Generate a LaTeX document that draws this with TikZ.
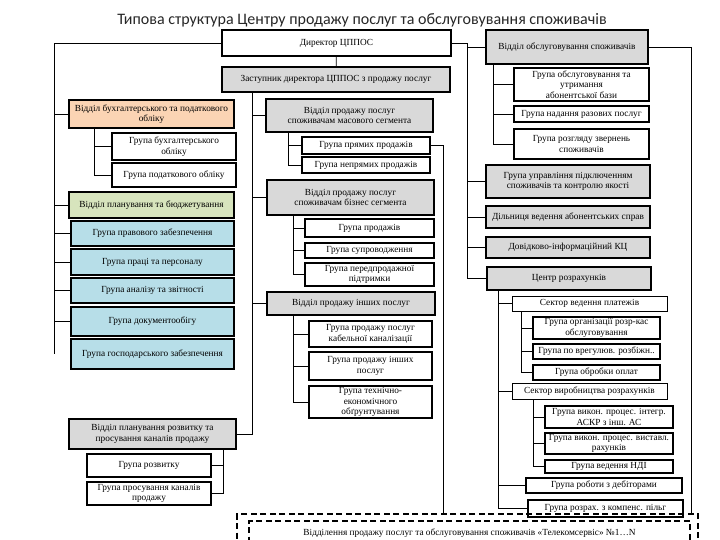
\documentclass[tikz,border=0pt]{standalone}
\usepackage{fontspec}
\setmainfont{Liberation Serif}
\newfontfamily\titlefont{Carlito}
\usepackage{xcolor}
\usepackage{tikz}
\definecolor{deptgrey}{RGB}{217,217,217}
\definecolor{accpeach}{RGB}{251,212,180}
\definecolor{plangreen}{RGB}{215,228,189}
\definecolor{staffblue}{RGB}{183,222,232}

\begin{document}
\begin{tikzpicture}[x=1pt, y=-1pt,
box/.style={draw, line width=1.8pt, inner sep=0pt, align=center, font=\fontsize{9.3}{10.6}\selectfont},
sz/.style 2 args={minimum width=#1pt, minimum height=#2pt},
grp/.style={box, fill=white},
dept/.style={box, fill=deptgrey},
sector/.style={box, fill=white, line width=1pt},
accbox/.style={box, fill=accpeach},
planbox/.style={box, fill=plangreen},
staffbox/.style={box, fill=staffblue},
branchbox/.style={draw, line width=1.5pt, dash pattern=on 6pt off 3.5pt, inner sep=0pt, font=\fontsize{9.3}{10.6}\selectfont},
link/.style={line width=0.8pt}
]
\useasboundingbox (0,0) rectangle (720,540);

\node[font=\titlefont\fontsize{16}{18}\selectfont, text=black!85] (title) at (362,20) {Типова структура Центру продажу послуг та обслуговування споживачів};

\coordinate (lbus) at (54,0);
\coordinate (abus) at (94,0);
\coordinate (vbus) at (223,0);
\coordinate (dbus) at (252,0);
\coordinate (mbus) at (288,0);
\coordinate (bbus) at (293,0);
\coordinate (tap) at (443,0);
\coordinate (rbus) at (467,0);
\coordinate (sbus) at (493,0);
\coordinate (cbus) at (498,0);
\coordinate (pbus) at (521,0);
\coordinate (qbus) at (533,0);
\coordinate (rline) at (691,0);

% top
\node[grp, sz={229}{26}] (director) at (336.5,43) {Директор ЦППОС};
\node[dept, sz={228}{25}] (deputy) at (336,79.5) {Заступник директора ЦППОС з продажу послуг};

% left column
\node[accbox, sz={165}{28}] (acc) at (151.5,114) {Відділ бухгалтерського та податкового\\обліку};
\node[grp, sz={124}{27}] (book) at (174,146.5) {Група бухгалтерського\\обліку};
\node[grp, sz={124}{24}] (tax) at (174,175) {Група податкового обліку};
\node[planbox, sz={165}{26}] (plan) at (151.5,205) {Відділ планування та бюджетування};
\node[staffbox, sz={163}{25}] (legal) at (152.5,233.5) {Група правового забезпечення};
\node[staffbox, sz={163}{26}] (staff) at (152.5,262) {Група праці та персоналу};
\node[staffbox, sz={163}{25}] (report) at (152.5,290.5) {Група аналізу та звітності};
\node[staffbox, sz={163}{29}] (docs) at (152.5,321.5) {Група документообігу};
\node[staffbox, sz={163}{30}] (household) at (152.5,354) {Група господарського забезпечення};
\node[dept, sz={167}{30}] (devel) at (152.5,434) {Відділ планування розвитку та\\просування каналів продажу};
\node[grp, sz={124}{23}] (growth) at (149,465.5) {Група розвитку};
\node[grp, sz={124}{23}] (promo) at (149,493.5) {Група просування каналів\\продажу};

% middle column
\node[dept, sz={167}{33}] (mass) at (349.5,115.5) {Відділ продажу послуг\\споживачам масового сегмента};
\node[grp, sz={128}{17}] (direct) at (366,145.5) {Група прямих продажів};
\node[grp, sz={128}{16}] (indirect) at (366,165) {Група непрямих продажів};
\node[dept, sz={167}{35}] (biz) at (350.5,197.5) {Відділ продажу послуг\\споживачам бізнес сегмента};
\node[grp, sz={129}{18}] (sales) at (369.5,228) {Група продажів};
\node[grp, sz={129}{15}] (support) at (369.5,250.5) {Група супроводження};
\node[grp, sz={129}{23}] (presale) at (369.5,274.5) {Група передпродажної\\підтримки};
\node[dept, sz={168}{23}] (other) at (351,303.5) {Відділ продажу інших послуг};
\node[grp, sz={123}{26}] (cable) at (370.5,334) {Група продажу послуг\\кабельної каналізації};
\node[grp, sz={123}{28}] (misc) at (370.5,366) {Група продажу інших\\послуг};
\node[grp, sz={123}{32}] (feasib) at (370.5,402) {Група технічно-\\економічного\\обґрунтування};

% right column
\node[dept, sz={162}{34}] (service) at (567,47) {Відділ обслуговування споживачів};
\node[grp, sz={135}{33}] (upkeep) at (581.5,84.5) {Група  обслуговування та\\утримання\\абонентської бази};
\node[grp, sz={135}{16}] (once) at (581.5,114) {Група  надання разових послуг};
\node[grp, sz={135}{30}] (claims) at (581.5,144) {Група розгляду звернень\\споживачів};
\node[dept, sz={164}{33}] (connect) at (568,181.5) {Група управління підключенням\\споживачів та контролю якості};
\node[dept, sz={164}{22}] (files) at (568,217) {Дільниця ведення абонентських справ};
\node[dept, sz={164}{21}] (info) at (568,247.5) {Довідково-інформаційний КЦ};
\node[dept, sz={164}{23}] (calc) at (569,278.5) {Центр розрахунків};
\node[sector, sz={155}{15}] (paysec) at (589.5,303.5) {Сектор ведення платежів};
\node[grp, sz={127}{22}] (cashorg) at (596.5,328) {Група організації розр-кас\\обслуговування};
\node[grp, sz={127}{15}] (disc) at (596.5,351.5) {Група по врегулюв. розбіжн..};
\node[grp, sz={127}{15}] (payments) at (596.5,372.5) {Група обробки оплат};
\node[sector, sz={155}{16}] (prodsec) at (589.5,391) {Сектор виробництва розрахунків};
\node[grp, sz={128}{22}] (askr) at (609,417) {Група викон. процес. інтегр.\\АСКР з інш. АС};
\node[grp, sz={128}{21}] (bills) at (609,443.5) {Група викон. процес. виставл.\\рахунків};
\node[grp, sz={128}{13}] (nsi) at (609,466.5) {Група ведення НДІ};
\node[grp, sz={156}{15}] (debt) at (604,485.5) {Група роботи з дебіторами};
\node[grp, sz={155}{17}] (comp) at (605.5,508.5) {Група розрах. з компенс. пільг};

% branches
\node[branchbox, sz={461}{38}] (outer) at (467.5,533) {};
\node[branchbox, sz={441}{24}] (branches) at (469.5,533) {Відділення продажу послуг та обслуговування споживачів «Телекомсервіс» №1…N};

% connectors
\draw[link] (director) -- (deputy);
\draw[link] (director.west) -| (household.west -| lbus);
\foreach \n in {acc,plan,legal,staff,report,docs}
  \draw[link] (\n.west) -- (\n.west -| lbus);
\draw[link] (acc.south -| abus) |- (tax.west);
\draw[link] (book.west) -- (book.west -| abus);
\draw[link] (deputy.south -| dbus) |- (devel.east);
\foreach \n in {mass,biz,other}
  \draw[link] (\n.west) -- (\n.west -| dbus);
\draw[link] (devel.south -| vbus) |- (promo.east);
\draw[link] (growth.east) -- (growth.east -| vbus);
\draw[link] (mass.south -| mbus) |- (indirect.west);
\draw[link] (direct.west) -- (direct.west -| mbus);
\draw[link] (biz.south -| bbus) |- (presale.west);
\foreach \n in {sales,support}
  \draw[link] (\n.west) -- (\n.west -| bbus);
\draw[link] (other.south -| bbus) |- (feasib.west);
\foreach \n in {cable,misc}
  \draw[link] (\n.west) -- (\n.west -| bbus);
\draw[link] (direct.east) -| (outer.north -| tap);
\draw[link] (director.east) -| (calc.west -| rbus);
\foreach \n in {service,connect,files,info,calc}
  \draw[link] (\n.west) -- (\n.west -| rbus);
\draw[link] (service.south -| sbus) |- (claims.west);
\foreach \n in {upkeep,once}
  \draw[link] (\n.west) -- (\n.west -| sbus);
\draw[link] (service.east) -| (outer.north -| rline);
\draw[link] (calc.south -| cbus) |- (comp.west);
\foreach \n in {paysec,prodsec,debt}
  \draw[link] (\n.west) -- (\n.west -| cbus);
\draw[link] (paysec.south -| pbus) |- (payments.west);
\foreach \n in {cashorg,disc}
  \draw[link] (\n.west) -- (\n.west -| pbus);
\draw[link] (prodsec.south -| qbus) |- (nsi.west);
\foreach \n in {askr,bills}
  \draw[link] (\n.west) -- (\n.west -| qbus);
\end{tikzpicture}
\end{document}
